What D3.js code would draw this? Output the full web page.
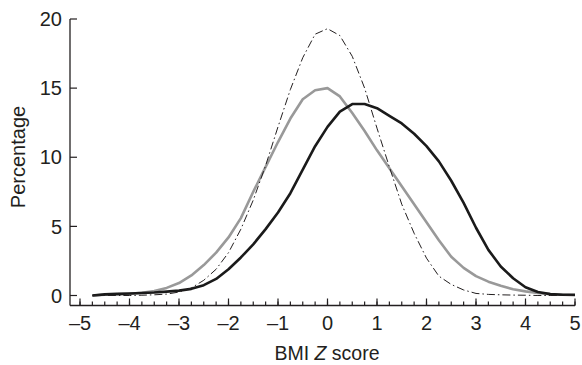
<!DOCTYPE html>
<html lang="en">
<head>
<meta charset="UTF-8">
<title>BMI Z score distribution</title>
<style>
    body { margin: 0; background: #fff; }
    svg text { font-family: "Liberation Sans", Arial, sans-serif; fill: #231f20; }
</style>
</head>
<body>
<div id="graph"></div>

<script src="https://cdn.jsdelivr.net/npm/d3@7/dist/d3.min.js"></script>
<script>
    // データ (BMI Z score ごとの割合, 0.25 刻み)
    var zScores = [-4.75, -4.5, -4.25, -4, -3.75, -3.5, -3.25, -3, -2.75, -2.5,
                   -2.25, -2, -1.75, -1.5, -1.25, -1, -0.75, -0.5, -0.25, 0,
                   0.25, 0.5, 0.75, 1, 1.25, 1.5, 1.75, 2, 2.25, 2.5,
                   2.75, 3, 3.25, 3.5, 3.75, 4, 4.25, 4.5, 4.75, 5];

    var blackSeries = [0.0, 0.08, 0.12, 0.15, 0.18, 0.22, 0.28, 0.35, 0.48, 0.75,
                       1.2, 1.9, 2.75, 3.7, 4.8, 6.0, 7.4, 9.1, 10.8, 12.2,
                       13.3, 13.85, 13.85, 13.55, 13.0, 12.45, 11.7, 10.8, 9.7, 8.3,
                       6.7, 4.9, 3.3, 2.1, 1.25, 0.6, 0.25, 0.1, 0.05, 0.05];

    var graySeries = [0.0, 0.05, 0.08, 0.12, 0.2, 0.32, 0.55, 0.9, 1.45, 2.2,
                      3.1, 4.2, 5.6, 7.5, 9.3, 11.1, 12.8, 14.2, 14.85, 15.0,
                      14.4, 13.2, 11.9, 10.5, 9.2, 7.9, 6.6, 5.3, 4.0, 2.8,
                      2.0, 1.4, 1.0, 0.7, 0.45, 0.3, 0.18, 0.1, 0.05, 0.02];

    var dashDotSeries = [0, 0, 0, 0, 0.02, 0.05, 0.1, 0.25, 0.55, 1.1,
                         1.9, 3.1, 4.8, 6.9, 9.4, 12.2, 14.9, 17.2, 18.9, 19.3,
                         18.8, 17.3, 15.0, 12.1, 9.3, 6.6, 4.5, 2.7, 1.4, 0.8,
                         0.4, 0.15, 0.08, 0.05, 0.03, 0.02, 0, 0, 0, 0];

    var xTicks = [-5, -4, -3, -2, -1, 0, 1, 2, 3, 4, 5];
    var xMinorTicks = d3.range(-5, 5.001, 0.25);
    var yTicks = [0, 5, 10, 15, 20];

    var width = 582, height = 365;

    var svg = d3.select("#graph").append("svg")
        .attr("width", width).attr("height", height);

    // スケール
    var xScale = d3.scaleLinear().domain([-5, 5]).range([80, 575]);
    var yScale = d3.scaleLinear().domain([0, 20]).range([295.5, 19]);
    var axisY = 305.5, axisX = 70;

    // 軸線
    svg.append("line")
        .attr("x1", axisX).attr("x2", xScale(5))
        .attr("y1", axisY).attr("y2", axisY)
        .attr("stroke", "#231f20").attr("stroke-width", 1.3);
    svg.append("line")
        .attr("x1", axisX).attr("x2", axisX)
        .attr("y1", yScale(20)).attr("y2", axisY)
        .attr("stroke", "#231f20").attr("stroke-width", 1.3);

    // x 軸の目盛 (小)
    svg.append("g").selectAll("line")
        .data(xMinorTicks)
        .enter().append("line")
        .attr("x1", function(d) { return xScale(d); })
        .attr("x2", function(d) { return xScale(d); })
        .attr("y1", axisY).attr("y2", axisY - 4)
        .attr("stroke", "#231f20").attr("stroke-width", 1.2);

    // x 軸の目盛 (大) とラベル
    var xg = svg.append("g");
    xg.selectAll("line")
        .data(xTicks)
        .enter().append("line")
        .attr("x1", function(d) { return xScale(d); })
        .attr("x2", function(d) { return xScale(d); })
        .attr("y1", axisY).attr("y2", axisY - 7)
        .attr("stroke", "#231f20").attr("stroke-width", 1.2);
    xg.selectAll("text")
        .data(xTicks)
        .enter().append("text")
        .attr("x", function(d) { return xScale(d); })
        .attr("y", 330)
        .attr("text-anchor", "middle")
        .attr("font-size", 20)
        .text(function(d) { return d < 0 ? "\u2013" + Math.abs(d) : d; });

    // y 軸
    var yg = svg.append("g");
    yg.selectAll("line")
        .data(yTicks)
        .enter().append("line")
        .attr("x1", axisX).attr("x2", axisX + 7)
        .attr("y1", function(d) { return yScale(d); })
        .attr("y2", function(d) { return yScale(d); })
        .attr("stroke", "#231f20").attr("stroke-width", 1.2);
    yg.selectAll("text")
        .data(yTicks)
        .enter().append("text")
        .attr("x", 62)
        .attr("y", function(d) { return yScale(d) + 7.2; })
        .attr("text-anchor", "end")
        .attr("font-size", 20)
        .text(function(d) { return d; });

    // 軸タイトル
    svg.append("text")
        .attr("transform", "translate(25,157) rotate(-90)")
        .attr("text-anchor", "middle")
        .attr("font-size", 20)
        .text("Percentage");

    var xt = svg.append("text")
        .attr("x", 327).attr("y", 360)
        .attr("text-anchor", "middle")
        .attr("font-size", 19.5);
    xt.append("tspan").text("BMI ");
    xt.append("tspan").attr("font-style", "italic").text("Z");
    xt.append("tspan").text(" score");

    // 線
    var line = d3.line()
        .x(function(d) { return xScale(d[0]); })
        .y(function(d) { return yScale(d[1]); });

    function pairs(values) {
        return zScores.map(function(z, i) { return [z, values[i]]; });
    }

    svg.append("path")
        .attr("d", line(pairs(graySeries)))
        .attr("fill", "none")
        .attr("stroke", "#999999")
        .attr("stroke-width", 2.6)
        .attr("stroke-linejoin", "round");

    svg.append("path")
        .attr("d", line(pairs(blackSeries)))
        .attr("fill", "none")
        .attr("stroke", "#1a1a1a")
        .attr("stroke-width", 2.6)
        .attr("stroke-linejoin", "round");

    svg.append("path")
        .attr("d", line(pairs(dashDotSeries)))
        .attr("fill", "none")
        .attr("stroke", "#231f20")
        .attr("stroke-width", 1)
        .attr("stroke-dasharray", "8,3,1.5,3");
</script>
</body>
</html>
